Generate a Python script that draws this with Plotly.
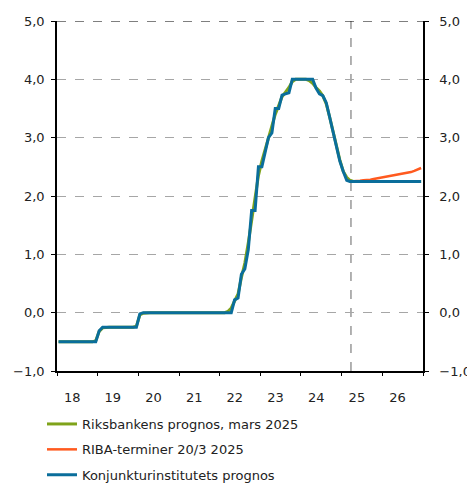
import pandas as pd
import plotly.graph_objects as go

# Monthly observations, Jan 2018 - Dec 2026 (plotted mid-month)
months = pd.date_range("2018-01-01", "2026-12-01", freq="MS") + pd.Timedelta(days=14)

riksbank = (
    [-0.5] * 11 + [-0.48]
    + [-0.32, -0.26] + [-0.25] * 9 + [-0.23]
    + [-0.04, -0.01] + [0.0] * 10
    + [0.0] * 12
    + [0.0, 0.0, 0.02, 0.08, 0.2, 0.32, 0.6, 0.85, 1.2, 1.6, 1.95, 2.35]
    + [2.6, 2.8, 3.0, 3.2, 3.4, 3.55, 3.7, 3.78, 3.86, 3.96, 4.0, 4.0]
    + [4.0, 4.0, 3.98, 3.93, 3.86, 3.8, 3.72, 3.58, 3.35, 3.1, 2.85, 2.62]
    + [2.42, 2.32, 2.27] + [2.25] * 9
    + [2.25] * 12
)

ki = (
    [-0.5] * 12
    + [-0.31] + [-0.25] * 11
    + [-0.02] + [0.0] * 11
    + [0.0] * 12
    + [0.0, 0.0, 0.0, 0.0, 0.22, 0.25, 0.66, 0.75, 1.08, 1.75, 1.75, 2.5]
    + [2.5, 2.77, 3.0, 3.08, 3.5, 3.5, 3.73, 3.75, 3.77, 4.0, 4.0, 4.0]
    + [4.0, 4.0, 4.0, 4.0, 3.85, 3.75, 3.72, 3.6, 3.35, 3.1, 2.85, 2.6]
    + [2.42, 2.27] + [2.25] * 10
    + [2.25] * 12
)

riba_months = months[86:]
riba = [2.25, 2.25, 2.26, 2.26, 2.27, 2.27, 2.28, 2.29, 2.3, 2.31,
        2.32, 2.33, 2.34, 2.35, 2.36, 2.37, 2.38, 2.4, 2.41, 2.43, 2.45, 2.48]

year_labels = ["18", "19", "20", "21", "22", "23", "24", "25", "26"]
year_ticks = pd.date_range("2018-01-01", "2027-01-01", freq="YS")
mid_year = pd.date_range("2018-07-01", "2026-07-01", freq="12MS")
y_ticks = [-1, 0, 1, 2, 3, 4, 5]
forecast_start = "2025-03-25"

GREEN = "#7fa31a"
ORANGE = "#ff5a1f"
BLUE = "#0a6e9b"
FONT = "DejaVu Sans"

fig = go.Figure()
fig.add_trace(go.Scatter(x=months, y=riksbank, mode="lines", name="Riksbankens prognos, mars 2025",
                         line=dict(color=GREEN, width=3), legendgroup="a"))
fig.add_trace(go.Scatter(x=riba_months, y=riba, mode="lines", name="RIBA-terminer 20/3 2025",
                         line=dict(color=ORANGE, width=2.5), legendgroup="b"))
fig.add_trace(go.Scatter(x=months, y=ki, mode="lines", name="Konjunkturinstitutets prognos",
                         line=dict(color=BLUE, width=3), legendgroup="c"))
# invisible traces to activate right y axis and tick x axis
fig.add_trace(go.Scatter(x=[months[0]], y=[0], yaxis="y2", mode="markers",
                         marker=dict(opacity=0), showlegend=False, hoverinfo="skip"))
fig.add_trace(go.Scatter(x=[months[0]], y=[0], xaxis="x2", mode="markers",
                         marker=dict(opacity=0), showlegend=False, hoverinfo="skip"))

fig.add_shape(type="line", xref="x", yref="paper", x0=forecast_start, x1=forecast_start, y0=0, y1=1,
              line=dict(color="#999999", width=1.5, dash="dash"), layer="below")
fig.add_shape(type="line", xref="paper", yref="y", x0=0, x1=1, y0=5, y1=5,
              line=dict(color="black", width=1, dash="dash"), layer="above")

# page has an 8px body margin, so the figure is sized to fit inside it
fig.update_layout(
    width=467, height=478,
    margin=dict(l=49, r=52, t=13, b=115, autoexpand=False),
    plot_bgcolor="white", paper_bgcolor="white",
    separators=", ",
    font=dict(family=FONT, size=13, color="#222222"),
    showlegend=True,
    legend=dict(x=(34 - 49) / 366, y=(363 - 401) / 350,
                xanchor="left", yanchor="top", traceorder="grouped", tracegroupgap=5.5,
                itemwidth=30, font=dict(size=13, family=FONT, color="#222222"),
                bgcolor="rgba(0,0,0,0)"),
    xaxis=dict(type="date", range=["2018-01-01", "2027-01-01"],
               tickvals=list(mid_year), ticktext=year_labels, ticks="",
               showline=True, linecolor="black", linewidth=1.5, mirror=False,
               showgrid=False, zeroline=False, ticklabelstandoff=14, ticklabelshift=-5,
               automargin=False),
    xaxis2=dict(type="date", range=["2018-01-01", "2027-01-01"], overlaying="x", side="bottom",
                tickvals=list(year_ticks), showticklabels=False, ticks="outside",
                ticklen=4, tickcolor="black", showgrid=False, anchor="y", automargin=False),
    yaxis=dict(range=[-1, 5], tickvals=y_ticks, tickformat=".1f",
               showline=True, linecolor="black", linewidth=1.5,
               ticks="outside", ticklen=4, tickcolor="black",
               showgrid=True, gridcolor="#a6a6a6", griddash="dash", gridwidth=1,
               zeroline=False, ticklabelstandoff=4, automargin=False),
    yaxis2=dict(range=[-1, 5], tickvals=y_ticks, tickformat=".1f", overlaying="y", side="right",
                showline=True, linecolor="black", linewidth=1.5,
                ticks="outside", ticklen=4, tickcolor="black",
                showgrid=False, zeroline=False, ticklabelstandoff=8, automargin=False),
)

fig.write_html("out.html")
